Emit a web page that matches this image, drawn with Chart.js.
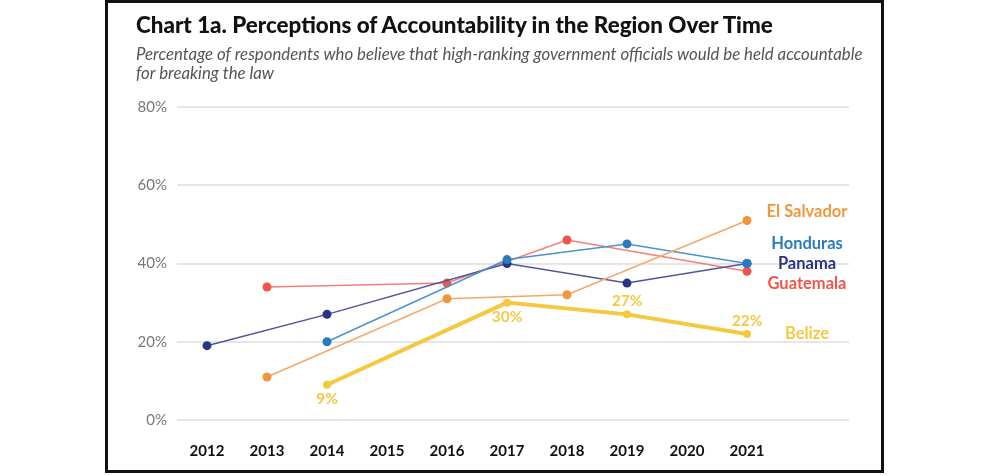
<!DOCTYPE html>
<html>
<head>
<meta charset="utf-8">
<script src="https://cdn.jsdelivr.net/npm/chart.js"></script>
<style>
  html, body { margin: 0; padding: 0; background: #fff; width: 1000px; height: 476px; overflow: hidden; }
  #frame { position: absolute; left: 105px; top: 0; width: 779px; height: 473px; box-sizing: border-box; border: 3px solid #111; }
  #title { position: absolute; left: 136px; top: 11px; font: 900 22.4px Lato, sans-serif; color: #111; white-space: nowrap; line-height: 28px; }
  #sub { position: absolute; left: 136px; top: 44px; font: italic 16.8px Lato, sans-serif; color: #555; line-height: 19px; width: 760px; white-space: nowrap; }
  canvas { position: absolute; left: 0; top: 0; }
</style>
</head>
<body>
<div id="frame"></div>
<canvas id="myChart" width="1000" height="476"></canvas>
<div id="title">Chart 1a. Perceptions of Accountability in the Region Over Time</div>
<div id="sub">Percentage of respondents who believe that high-ranking government officials would be held accountable<br>for breaking the law</div>
<script>
const years = [2012, 2013, 2014, 2015, 2016, 2017, 2018, 2019, 2020, 2021];
const yTicks = [0, 20, 40, 60, 80];

// null = no survey that year
const elSalvador = [null, 11, null, null, 31, null, 32, null, null, 51];
const honduras   = [null, null, 20, null, null, 41, null, 45, null, 40];
const panama     = [19, null, 27, null, null, 40, null, 35, null, 40];
const guatemala  = [null, 34, null, null, 35, null, 46, null, null, 38];
const belize     = [null, null, 9, null, null, 30, null, 27, null, 22];

const seriesNames = ['El Salvador', 'Honduras', 'Panama', 'Guatemala', 'Belize'];
const seriesColors = ['#f0963c', '#2b7bbf', '#283583', '#f0554a', '#f5c842'];
const lineColors = ['#f5a865', '#4a93cf', '#4f5599', '#f57f76', '#f5c842'];
// where the country names sit, in data units
const nameYears = 2022;
const nameValues = [53.2, 45, 39.9, 34.8, 22];
// Belize value labels: true = below the point
const belizeBelow = [false, false, true, false, false, true, false, false, false, false];

const toPoints = arr => arr.map((v, i) => ({ x: years[i], y: v })).filter(p => p.y !== null);

const allSeries = [elSalvador, honduras, panama, guatemala, belize];

const ctx = document.getElementById('myChart');

const labelPlugin = {
  id: 'seriesLabels',
  afterDatasetsDraw(chart) {
    const c = chart.ctx;
    const { x, y } = chart.scales;
    c.save();
    c.textAlign = 'center';
    c.textBaseline = 'middle';
    c.font = 'bold 16.5px Lato, sans-serif';
    seriesNames.forEach((name, i) => {
      c.fillStyle = seriesColors[i];
      c.fillText(name, x.getPixelForValue(nameYears), y.getPixelForValue(nameValues[i]));
    });
    c.font = 'bold 15.5px Lato, sans-serif';
    c.fillStyle = seriesColors[4];
    belize.forEach((v, i) => {
      if (v === null) return;
      const px = x.getPixelForValue(years[i]);
      const py = y.getPixelForValue(v) + (belizeBelow[i] ? 14 : -13);
      c.fillText(v + '%', px, py);
    });
    c.restore();
  }
};

new Chart(ctx, {
  type: 'line',
  data: {
    datasets: allSeries.map((arr, i) => ({
      label: seriesNames[i],
      data: toPoints(arr),
      borderColor: lineColors[i],
      backgroundColor: seriesColors[i],
      pointBackgroundColor: seriesColors[i],
      pointBorderWidth: 0,
      pointRadius: i === 4 ? 4 : 4.5,
      borderWidth: i === 4 ? 4 : 1.5,
      tension: 0,
      order: i === 4 ? 0 : 1,
    }))
  },
  options: {
    responsive: false,
    animation: false,
    layout: { padding: { top: 107, right: 151, bottom: 0, left: 0 } },
    plugins: {
      legend: { display: false },
      title: { display: false },
      tooltip: { enabled: false }
    },
    scales: {
      x: {
        type: 'linear',
        min: 2011.5,
        max: 2022.7,
        afterBuildTicks: s => { s.ticks = years.map(v => ({ value: v })); },
        afterFit: s => { s.height = 56; },
        border: { display: false },
        grid: { display: false, drawTicks: false },
        ticks: {
          padding: 22,
          color: '#111',
          font: { family: 'Lato, sans-serif', size: 15, weight: 'bold' },
          callback: v => String(v),
          maxRotation: 0,
          autoSkip: false
        }
      },
      y: {
        min: 0,
        max: 80,
        afterBuildTicks: s => { s.ticks = yTicks.map(v => ({ value: v })); },
        afterFit: s => { s.width = 177; },
        border: { display: false },
        grid: { color: '#e6e6e6', lineWidth: 2, drawTicks: false },
        ticks: {
          padding: 10,
          color: '#777',
          font: { family: 'Lato, sans-serif', size: 15 },
          callback: v => v + '%'
        }
      }
    }
  },
  plugins: [labelPlugin]
});
</script>
</body>
</html>
